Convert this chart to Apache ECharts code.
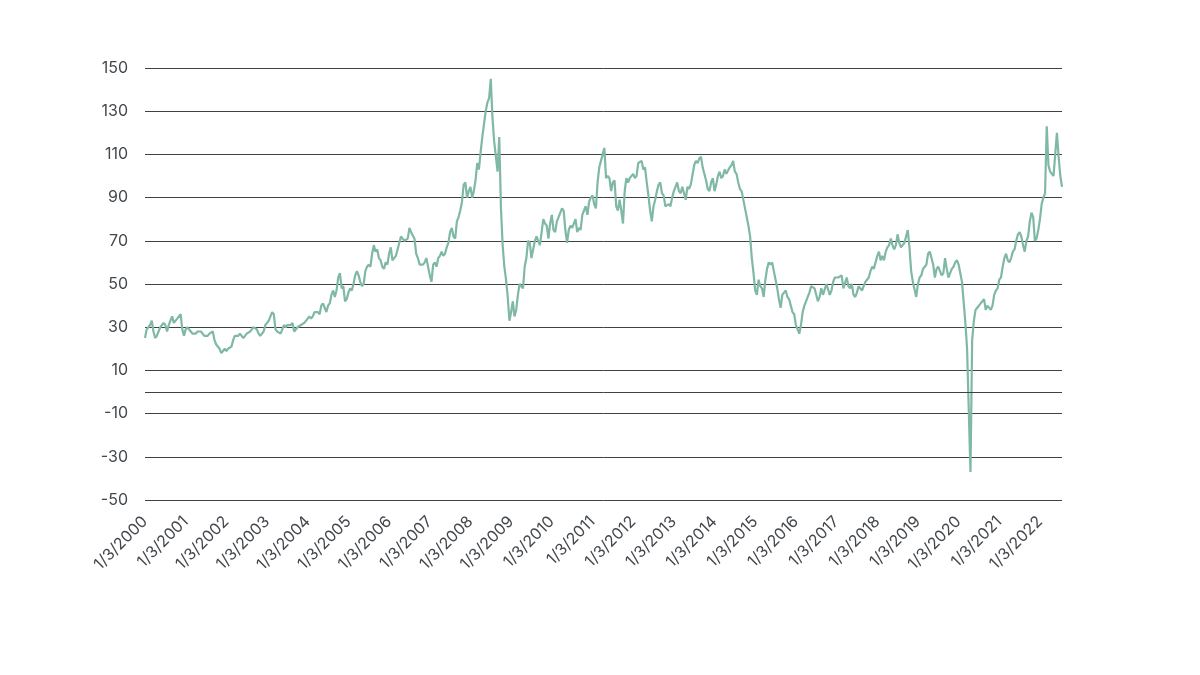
<!DOCTYPE html>
<html>
<head>
<meta charset="utf-8">
<script src="https://cdn.jsdelivr.net/npm/echarts@6/dist/echarts.min.js"></script>
<style>
  html, body { margin: 0; padding: 0; background: #fff; }
  #main { width: 1200px; height: 675px; }
</style>
</head>
<body>
<div id="main"></div>
<script>
// prix, 2 points par mois (1re et 2e quinzaine)
var startYear = 2000;
var pointsPerYear = 24;
var yearTicks = [2000, 2001, 2002, 2003, 2004, 2005, 2006, 2007, 2008, 2009, 2010,
    2011, 2012, 2013, 2014, 2015, 2016, 2017, 2018, 2019, 2020, 2021, 2022];

var wti2000s = [
    25, 29, 30, 31, 33, 28, 25, 26, 28, 30, 31, 32, 31, 28, 31, 33, 35, 32, 32, 34, 34, 36, 29, 26,   // 2000
    29, 30, 30, 28, 27, 27, 27, 28, 28, 28, 28, 26, 26, 26, 27, 27, 28, 24, 22, 22, 20, 18, 19, 20,   // 2001
    19, 20, 20, 21, 24, 26, 26, 26, 27, 26, 25, 26, 27, 27, 28, 29, 30, 30, 29, 27, 26, 26, 28, 31,   // 2002
    32, 33, 35, 37, 36, 29, 28, 28, 27, 29, 31, 30, 31, 31, 31, 32, 28, 28, 30, 30, 31, 31, 32, 32,   // 2003
    34, 35, 34, 35, 37, 37, 37, 36, 40, 41, 39, 37, 40, 41, 45, 47, 44, 47, 53, 55, 48, 49, 42, 43,   // 2004
    46, 48, 47, 50, 54, 56, 54, 51, 49, 50, 56, 58, 59, 58, 64, 68, 65, 66, 62, 61, 58, 57, 60, 59,   // 2005
    64, 67, 61, 61, 63, 63, 69, 72, 71, 70, 70, 71, 76, 74, 74, 71, 64, 62, 59, 59, 59, 60, 62, 62,   // 2006
    54, 51, 59, 60, 58, 62, 63, 65, 63, 64, 67, 69, 74, 76, 72, 71, 79, 81, 84, 88, 96, 97, 90, 93,   // 2007
    95, 90, 93, 98, 106, 103, 111, 118, 124, 130, 134, 136, 145, 127, 116, 116, 102, 118, 85, 68, 58, 52, 44, 33, // 2008
    37, 42, 35, 38, 45, 50, 50, 48, 58, 62, 70, 69, 62, 66, 70, 72, 70, 68, 74, 80, 78, 77, 71, 78    // 2009
];

var wti2010s = [
    82, 75, 74, 79, 81, 81, 85, 84, 75, 69, 75, 77, 76, 78, 80, 74, 76, 75, 82, 82, 86, 82, 88, 90,   // 2010
    91, 87, 85, 97, 104, 104, 110, 113, 99, 100, 99, 93, 97, 98, 86, 84, 89, 84, 78, 93, 99, 97, 99, 99, // 2011
    101, 99, 100, 106, 106, 107, 103, 104, 97, 91, 84, 79, 86, 89, 93, 96, 97, 92, 91, 86, 86, 87, 86, 90, // 2012
    93, 95, 97, 93, 92, 95, 92, 89, 95, 94, 96, 96, 105, 107, 106, 108, 109, 104, 101, 98, 94, 93, 97, 99, // 2013
    93, 96, 100, 102, 99, 100, 103, 101, 101, 104, 105, 107, 102, 101, 97, 94, 93, 93, 85, 81, 77, 72, 62, 55, // 2014
    47, 45, 52, 49, 48, 44, 52, 57, 60, 59, 60, 60, 52, 48, 43, 39, 45, 46, 47, 44, 43, 40, 37, 36,   // 2015
    31, 29, 27, 31, 37, 40, 40, 44, 46, 49, 49, 48, 45, 42, 44, 48, 45, 45, 50, 50, 45, 47, 51, 53,   // 2016
    53, 53, 53, 54, 48, 48, 53, 49, 48, 50, 45, 44, 46, 49, 48, 47, 49, 51, 51, 53, 56, 58, 57, 60,   // 2017
    63, 65, 61, 63, 61, 65, 67, 68, 71, 68, 66, 68, 73, 69, 67, 68, 69, 72, 75, 67, 56, 51, 51, 44,   // 2018
    50, 53, 54, 57, 58, 59, 64, 65, 62, 59, 53, 57, 58, 56, 54, 55, 62, 57, 53, 55, 57, 58, 60, 61    // 2019
];

var wti2020s = [
    59, 55, 51, 51, 32, 20, 20, -37, 24, 33, 38, 39, 40, 41, 42, 43, 38, 40, 40, 38, 40, 45, 47, 48,  // 2020
    52, 53, 58, 62, 64, 61, 60, 62, 65, 66, 70, 73, 74, 72, 68, 65, 70, 72, 79, 83, 81, 70, 71, 75,   // 2021
    80, 87, 90, 92, 123, 105, 102, 102, 100, 110, 120, 109, 100, 95                                  // 2022
];

var prices = wti2000s.concat(wti2010s, wti2020s);
var seriesData = prices.map(function (v, i) {
    return [startYear + i / pointsPerYear, v];
});
var lastX = seriesData[seriesData.length - 1][0];

var lineColor = '#7fb8a5';
var gridColor = '#3d4246';
var textColor = '#44484d';
var fontName = 'Inter';

var myChart = echarts.init(document.getElementById('main'));
myChart.setOption({
    animation: false,
    backgroundColor: '#ffffff',
    grid: { left: 145, right: 138, top: 68, bottom: 175, containLabel: false },
    xAxis: {
        type: 'value',
        min: yearTicks[0],
        max: lastX,
        interval: 1,
        axisLine: { show: false },
        axisTick: { show: false },
        splitLine: { show: false },
        axisLabel: {
            rotate: 45,
            margin: 19,
            fontFamily: fontName,
            fontSize: 16,
            color: textColor,
            showMaxLabel: false,
            formatter: function (v) {
                return yearTicks.indexOf(v) >= 0 ? '1/3/' + v : '';
            }
        }
    },
    yAxis: {
        type: 'value',
        min: -50,
        max: 150,
        interval: 20,
        axisLine: { show: false },
        axisTick: { show: false },
        splitLine: { lineStyle: { color: gridColor, width: 1 } },
        axisLabel: {
            margin: 17,
            fontFamily: fontName,
            fontSize: 16,
            color: textColor,
            formatter: function (v) { return String(v); }
        }
    },
    series: [{
        type: 'line',
        data: seriesData,
        showSymbol: false,
        lineStyle: { color: lineColor, width: 2.2 },
        markLine: {
            silent: true,
            symbol: 'none',
            label: { show: false },
            lineStyle: { color: gridColor, width: 1, type: 'solid' },
            data: [{ yAxis: 0 }]
        }
    }]
});
</script>
</body>
</html>
